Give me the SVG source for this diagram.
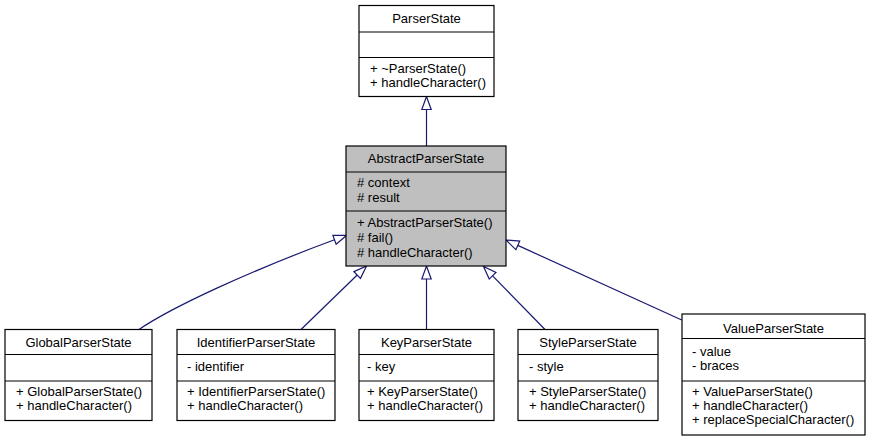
<svg xmlns="http://www.w3.org/2000/svg" width="870" height="441" viewBox="0 0 870 441">
<defs>
<marker id="inh" markerUnits="userSpaceOnUse" markerWidth="16" markerHeight="12" refX="0" refY="6" orient="auto" overflow="visible">
<path d="M0,1.3 L13,6 L0,10.7 Z" fill="#ffffff" stroke="#191970" stroke-width="1.2"/>
</marker>
<style>
.box{fill:#ffffff;stroke:#000000;stroke-width:1.2}
.focus{fill:#bfbfbf}
.sep{stroke:#000000;stroke-width:1.2}
text{font-family:"Liberation Sans",Arial,sans-serif;font-size:13px;fill:#000000}
.t{text-anchor:middle}
.e{fill:none;stroke:#191970;stroke-width:1.2;marker-end:url(#inh)}
</style>
</defs>
<rect width="870" height="441" fill="#ffffff"/>
<g id="edges">
<path class="e" d="M426.5,146 L426.5,109.5"/>
<path class="e" d="M139,329.5 C172,307 250,271 334.5,239.8"/>
<path class="e" d="M301,329.5 L357.2,275"/>
<path class="e" d="M426.5,329.5 L426.5,279"/>
<path class="e" d="M545,329.5 L492.6,275.8"/>
<path class="e" d="M681.7,320 L517.8,245.4"/>
</g>
<g id="ParserState">
<rect class="box" x="359" y="5.5" width="135" height="91"/>
<line class="sep" x1="359" y1="32" x2="494" y2="32"/>
<line class="sep" x1="359" y1="57.5" x2="494" y2="57.5"/>
<text class="t" x="426.5" y="22.5">ParserState</text>
<text x="370" y="72.5">+ ~ParserState()</text>
<text x="370" y="87">+ handleCharacter()</text>
</g>
<g id="AbstractParserState">
<rect class="box focus" x="346" y="146" width="160" height="120"/>
<line class="sep" x1="346" y1="172" x2="506" y2="172"/>
<line class="sep" x1="346" y1="211" x2="506" y2="211"/>
<text class="t" x="426" y="163">AbstractParserState</text>
<text x="357" y="187"># context</text>
<text x="357" y="202"># result</text>
<text x="357" y="227">+ AbstractParserState()</text>
<text x="357" y="242"># fail()</text>
<text x="357" y="257"># handleCharacter()</text>
</g>
<g id="GlobalParserState">
<rect class="box" x="5" y="329.5" width="147" height="91"/>
<line class="sep" x1="5" y1="354.5" x2="152" y2="354.5"/>
<line class="sep" x1="5" y1="381" x2="152" y2="381"/>
<text class="t" x="78.5" y="346.5">GlobalParserState</text>
<text x="16" y="396">+ GlobalParserState()</text>
<text x="16" y="410">+ handleCharacter()</text>
</g>
<g id="IdentifierParserState">
<rect class="box" x="177" y="329.5" width="158" height="91"/>
<line class="sep" x1="177" y1="354.5" x2="335" y2="354.5"/>
<line class="sep" x1="177" y1="381" x2="335" y2="381"/>
<text class="t" x="256" y="346.5">IdentifierParserState</text>
<text x="187" y="370.5">- identifier</text>
<text x="187" y="396">+ IdentifierParserState()</text>
<text x="187" y="410">+ handleCharacter()</text>
</g>
<g id="KeyParserState">
<rect class="box" x="359" y="329.5" width="135" height="91"/>
<line class="sep" x1="359" y1="354.5" x2="494" y2="354.5"/>
<line class="sep" x1="359" y1="381" x2="494" y2="381"/>
<text class="t" x="426.5" y="346.5">KeyParserState</text>
<text x="367" y="370.5">- key</text>
<text x="367" y="396">+ KeyParserState()</text>
<text x="367" y="410">+ handleCharacter()</text>
</g>
<g id="StyleParserState">
<rect class="box" x="518" y="329.5" width="140" height="91"/>
<line class="sep" x1="518" y1="354.5" x2="658" y2="354.5"/>
<line class="sep" x1="518" y1="381" x2="658" y2="381"/>
<text class="t" x="588" y="346.5">StyleParserState</text>
<text x="529" y="370.5">- style</text>
<text x="529" y="396">+ StyleParserState()</text>
<text x="529" y="410">+ handleCharacter()</text>
</g>
<g id="ValueParserState">
<rect class="box" x="682" y="314" width="183" height="121"/>
<line class="sep" x1="682" y1="338.5" x2="865" y2="338.5"/>
<line class="sep" x1="682" y1="381" x2="865" y2="381"/>
<text class="t" x="773.5" y="332.5">ValueParserState</text>
<text x="692" y="356">- value</text>
<text x="692" y="370">- braces</text>
<text x="692" y="396">+ ValueParserState()</text>
<text x="692" y="410">+ handleCharacter()</text>
<text x="692" y="424">+ replaceSpecialCharacter()</text>
</g>
</svg>
